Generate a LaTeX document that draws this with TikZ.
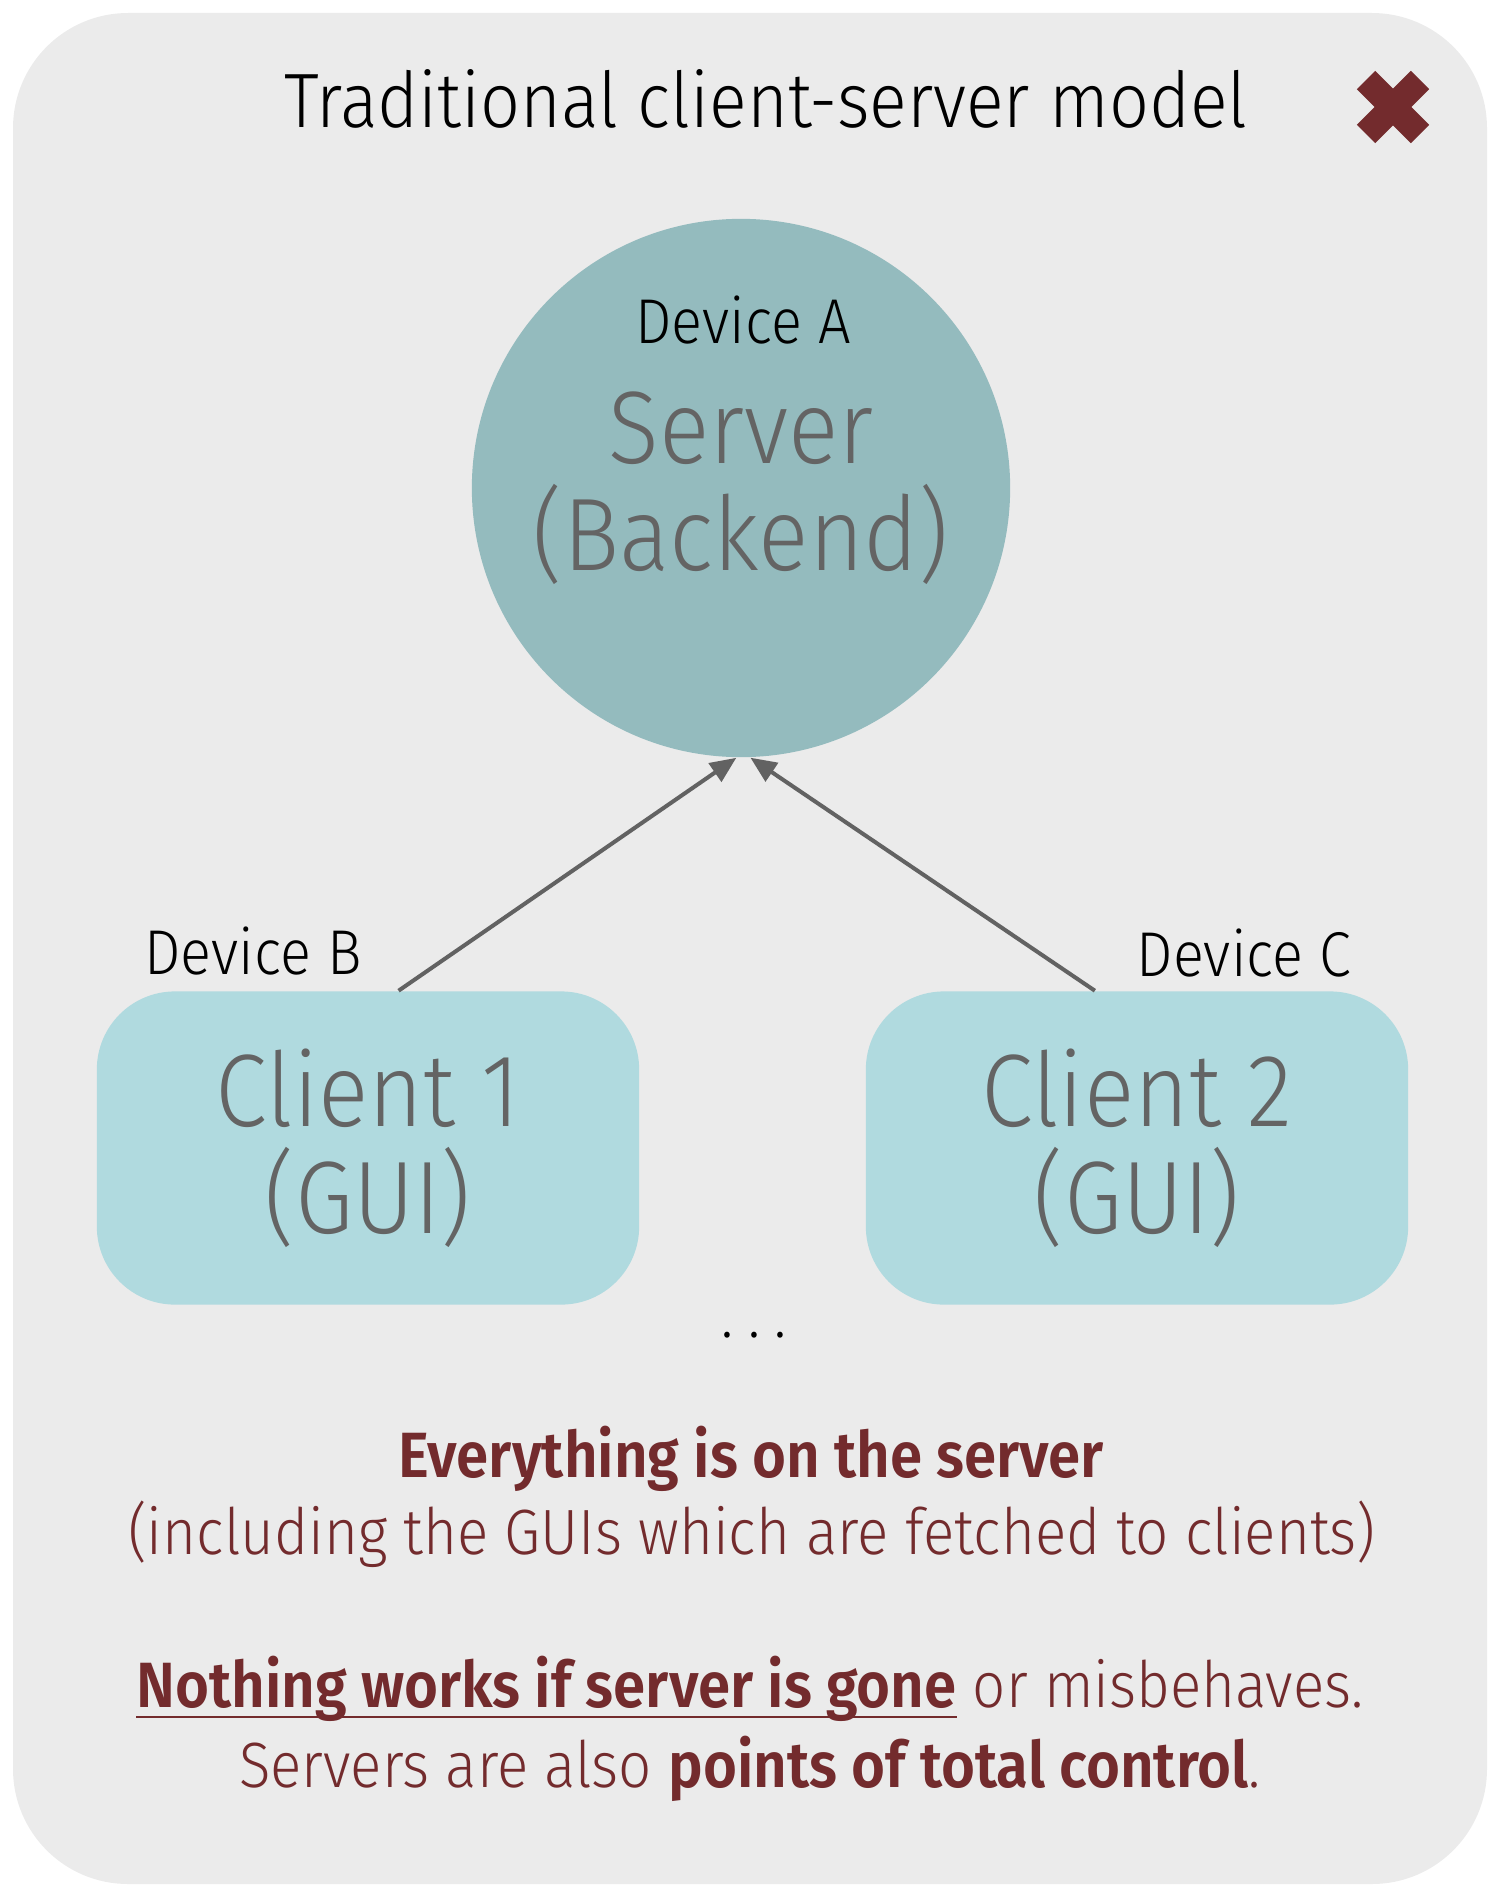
\documentclass[tikz,border=0pt]{standalone}
\usepackage{fontspec}
\setmainfont{Fira Sans Light}[BoldFont={Fira Sans SemiBold}, FakeStretch=0.91]
\usetikzlibrary{arrows.meta, positioning}
\definecolor{panelgray}{HTML}{EBEBEB}
\definecolor{servercol}{HTML}{94BBBE}
\definecolor{clientcol}{HTML}{B0DADF}
\definecolor{txtgray}{HTML}{646464}
\definecolor{arrowgray}{HTML}{626262}
\definecolor{darkred}{HTML}{732B2D}
\newcommand{\lineunder}[1]{\setbox0\hbox{#1}\rlap{\rule[-2.9pt]{\wd0}{0.5pt}}\box0\relax}

\begin{document}
\begin{tikzpicture}[
        x=0.01cm, y=-0.01cm,
        panel/.style={fill=panelgray, rounded corners=1.15cm},
        server/.style={circle, fill=servercol, minimum size=5.38cm, inner sep=0pt, align=center, text=txtgray, font=\fontsize{29.3}{30.3}\selectfont},
        client/.style={rectangle, rounded corners=0.78cm, fill=clientcol, minimum width=5.42cm, minimum height=3.13cm, align=center, text=txtgray, font=\fontsize{29.3}{30.3}\selectfont},
        device/.style={anchor=base, font=\fontsize{18}{20}\selectfont},
        title/.style={anchor=base, font=\fontsize{21.9}{24}\selectfont},
        note/.style={anchor=base, align=center, text=darkred, font=\fontsize{18.2}{22.5}\selectfont},
        arrow/.style={-{Triangle[length=0.26cm, width=0.22cm]}, line width=0.04cm, draw=arrowgray},
        cross/.style={line width=0.26cm, draw=darkred}
    ]
        \useasboundingbox (0,0) rectangle (1500,1897);
        \fill[panel] (13,13) rectangle (1487,1884);
        \node[title] (Title) at (766,128) {Traditional client-server model};
        \draw[cross] (1366,80) -- (1420,134);
        \draw[cross] (1420,80) -- (1366,134);
        \node[server] (Srv) at (741,488) {Server\\(Backend)};
        \node[device] (DevA) at (743,343) {Device A};
        \node[client] (Cl1) at (368,1148) {Client 1\\(GUI)};
        \node[client] (Cl2) at (1137,1148) {Client 2\\(GUI)};
        \node[device] (DevB) at (253,974) {Device B};
        \node[device] (DevC) at (1244,976) {Device C};
        \draw[arrow] (Cl1.79.5) -- (Srv.-91);
        \draw[arrow] (Cl2.105.7) -- (Srv.-88);
        \node[device] (More) at (754,1337) {.\kern4.2pt.\kern4.2pt.};
        \node[note, font=\bfseries\fontsize{18.2}{22.5}\selectfont] (Everything) at (751,1477) {Everything is on the server};
        \node[note] (Including) at (752,1554) {(including the GUIs which are fetched to clients)};
        \node[note] (Nothing) at (750,1787) {\lineunder{\textbf{Nothing works if server is gone}} or misbehaves.\\Servers are also \textbf{points of total control}.};
\end{tikzpicture}
\end{document}
